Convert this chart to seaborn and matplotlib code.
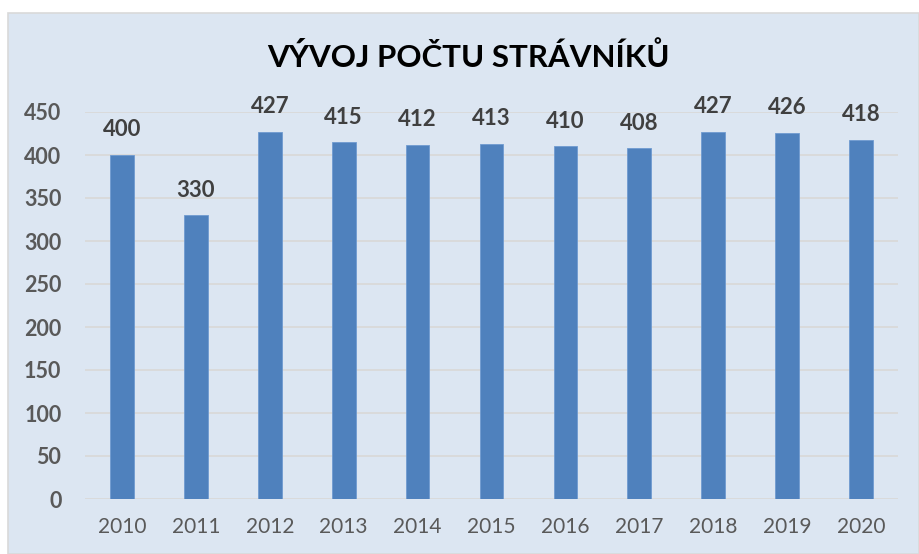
import matplotlib
matplotlib.use("Agg")
import matplotlib.pyplot as plt
import seaborn as sns
import pandas as pd
from matplotlib.patches import Rectangle

years = ["2010", "2011", "2012", "2013", "2014", "2015", "2016", "2017", "2018", "2019", "2020"]
values = [400, 330, 427, 415, 412, 413, 410, 408, 427, 426, 418]
yticks = [0, 50, 100, 150, 200, 250, 300, 350, 400, 450]
title = "VÝVOJ POČTU STRÁVNÍKŮ"

sns.set_style("white")
plt.rcParams["font.family"] = ["Lato", "DejaVu Sans"]

bg = "#dce6f2"
df = pd.DataFrame({"year": years, "value": values})

fig = plt.figure(figsize=(9.19, 5.54), dpi=100)
fig.patch.set_facecolor("white")
fig.patches.append(Rectangle((8 / 919, 0), 1 - 8 / 919, 1 - 13 / 554, transform=fig.transFigure,
                             facecolor=bg, edgecolor="#d9d9d9", linewidth=1.2, zorder=-5))

ax = fig.add_axes([85 / 919, 55 / 554, (898 - 85) / 919, (442 - 55) / 554])
ax.set_facecolor(bg)
sns.barplot(data=df, x="year", y="value", color="#4f81bd", width=0.32, saturation=1,
            edgecolor="#6f9bd0", linewidth=0.6, ax=ax, zorder=3)

ax.set_ylim(0, 450)
ax.set_xlim(-0.5, len(years) - 0.5)
ax.set_yticks(yticks)
ax.set_yticklabels([str(t) for t in yticks], fontsize=15.5, fontweight="bold", color="#595959")
ax.set_xticks(range(len(years)))
ax.set_xticklabels(years, fontsize=15, color="#595959")
ax.tick_params(axis="both", length=0)
ax.tick_params(axis="y", pad=17)
ax.tick_params(axis="x", pad=13)
ax.yaxis.grid(True, color="#d9d9d9", linewidth=1.3, zorder=0)
ax.set_axisbelow(True)
for s in ax.spines.values():
    s.set_visible(False)
ax.set_xlabel("")
ax.set_ylabel("")

for i, v in enumerate(values):
    ax.annotate(str(v), (i, v), xytext=(0, 18), textcoords="offset points",
                ha="center", va="center", fontsize=16, fontweight="bold", color="#404040")

fig.text(468 / 919, 1 - 57 / 554, title, ha="center", va="center", fontsize=22.5,
         fontweight="bold", color="black")

fig.savefig("out.png", dpi=100)
